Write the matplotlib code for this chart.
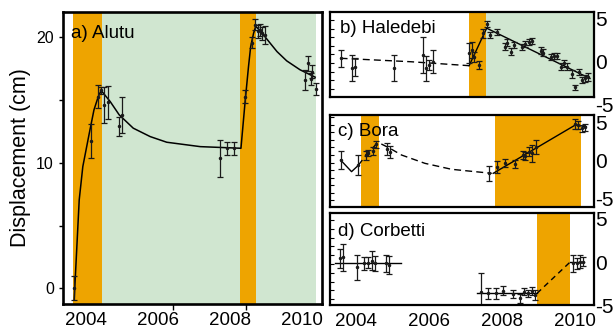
import numpy as np
import matplotlib
matplotlib.use("Agg")
import matplotlib.pyplot as plt
from matplotlib.ticker import MultipleLocator

plt.rcParams['font.family'] = ['Liberation Sans', 'DejaVu Sans']

ORANGE = '#eea400'
GREEN = '#d0e6d0'

# --- a) Alutu ---
a_yr = [2003.67, 2004.13, 2004.32, 2004.42, 2004.51, 2004.60, 2004.92, 2005.01,
        2007.72, 2007.92, 2008.12, 2008.42, 2008.61, 2008.69, 2008.76, 2008.83,
        2008.88, 2008.97, 2010.08, 2010.17, 2010.24, 2010.27, 2010.38]
a_val = [0.0, 11.7, 15.27, 15.75, 14.6, 14.8, 12.9, 13.8,
         10.35, 11.15, 11.15, 15.27, 19.57, 20.98, 20.45, 20.58,
         20.3, 20.18, 16.6, 17.93, 16.65, 17.26, 15.86]
a_err = [0.95, 1.35, 0.9, 0.3, 1.4, 1.3, 0.75, 1.45,
         1.45, 0.5, 0.5, 0.55, 0.45, 0.45, 0.5, 0.5,
         0.5, 0.7, 0.8, 0.6, 0.5, 0.5, 0.45]
a_model_yr = [2003.67, 2003.81, 2003.91, 2004.09, 2004.22, 2004.34, 2004.42, 2004.67,
              2004.92, 2005.31, 2005.78, 2006.24, 2007.17, 2008.30, 2008.42, 2008.51,
              2008.57, 2008.65, 2008.71, 2008.83, 2009.02, 2009.30, 2009.57, 2009.94, 2010.36]
a_model_val = [-0.93, 7.04, 9.69, 12.35, 14.21, 15.27, 15.75, 14.87,
               13.81, 12.75, 12.08, 11.63, 11.28, 11.15, 15.0, 17.66,
               19.25, 20.3, 20.85, 20.53, 19.84, 18.85, 18.11, 17.4, 16.81]
a_orange = [(2003.64, 2004.44), (2008.28, 2008.72)]
a_green = [(2004.44, 2008.28), (2008.72, 2010.38)]

# --- b) Haledebi ---
b_yr = [2003.58, 2003.88, 2003.97, 2005.04, 2005.83, 2005.92, 2006.01, 2006.10,
        2007.10, 2007.17, 2007.23, 2007.37, 2007.49, 2007.58, 2007.67, 2007.87,
        2008.08, 2008.14, 2008.26, 2008.34, 2008.54, 2008.63, 2008.74, 2008.81,
        2009.08, 2009.13, 2009.34, 2009.43, 2009.52, 2009.62, 2009.71, 2009.77,
        2009.91, 2010.00, 2010.11, 2010.20, 2010.27, 2010.36]
b_val = [0.54, -0.62, -0.43, -0.62, 0.93, -0.62, -0.23, 0.15,
         1.13, 1.51, 0.73, -0.23, 3.45, 4.53, 3.26, 3.57,
         1.9, 2.36, 1.31, 2.09, 1.9, 2.21, 2.48, 2.6,
         1.43, 1.2, 0.66, 0.81, 0.81, -0.43, -0.04, -0.43,
         -1.28, -2.83, -1.01, -1.98, -1.78, -1.59]
b_err = [0.97, 1.5, 1.07, 1.5, 2.1, 1.45, 0.6, 1.35,
         1.16, 0.9, 0.6, 0.5, 0.5, 0.4, 0.4, 0.35,
         0.4, 0.4, 0.4, 0.4, 0.35, 0.35, 0.35, 0.35,
         0.4, 0.4, 0.35, 0.35, 0.35, 0.4, 0.4, 0.4,
         0.45, 0.3, 0.35, 0.4, 0.4, 0.45]
b_dash_yr = [2003.58, 2005.5, 2007.10]
b_dash_val = [0.55, 0.15, -0.31]
b_solid_yr = [2007.10, 2007.58, 2010.41]
b_solid_val = [-0.31, 4.05, -1.8]
b_orange = [(2007.10, 2007.56)]
b_green = [(2007.56, 2010.6)]

# --- c) Bora ---
c_yr = [2003.58, 2004.06, 2004.27, 2004.34, 2004.46, 2004.55, 2004.84, 2004.93,
        2007.65, 2007.87, 2008.08, 2008.36, 2008.57, 2008.63, 2008.75, 2008.83,
        2008.92, 2010.01, 2010.09, 2010.18, 2010.27]
c_val = [0.33, -0.33, 0.99, 1.3, 1.56, 2.41, 1.75, 1.43,
         -1.43, -0.56, -0.11, -0.24, 0.99, 0.86, 1.43, 1.21,
         2.09, 5.1, 4.97, 4.53, 4.66]
c_err = [1.2, 1.37, 0.6, 0.4, 0.55, 0.45, 0.77, 0.77,
         1.0, 0.8, 0.55, 0.55, 0.55, 0.55, 0.6, 1.1,
         0.9, 0.65, 0.5, 0.45, 0.45]
c_solid1_yr = [2003.58, 2003.88, 2004.06]
c_solid1_val = [0.33, -1.21, -0.4]
c_dash_yr = [2004.06, 2004.3, 2004.55, 2004.66, 2004.93, 2005.25, 2005.89,
             2006.62, 2007.26, 2007.72]
c_dash_val = [-0.4, 1.1, 2.4, 2.54, 1.88, 0.99, -0.11, -0.9, -1.21, -1.43]
c_solid2_yr = [2007.76, 2010.01, 2010.31]
c_solid2_val = [-1.43, 4.97, 4.74]
c_orange = [(2004.13, 2004.63), (2007.81, 2010.16)]

# --- d) Corbetti ---
d_yr = [2003.56, 2003.65, 2004.04, 2004.23, 2004.32, 2004.43, 2004.52, 2004.81, 2004.91,
        2007.42, 2007.62, 2007.83, 2008.02, 2008.31, 2008.49, 2008.60, 2008.72, 2008.81, 2008.90,
        2009.95, 2010.05, 2010.14, 2010.23]
d_val = [0.65, 0.76, -0.38, 0.08, 0.15, 0.38, 0.08, 0.08, -0.11,
         -3.14, -3.33, -3.33, -3.03, -3.41, -3.9, -3.14, -3.33, -3.07, -3.52,
         0.08, 0.08, 0.26, 0.26]
d_err = [1.08, 1.5, 1.42, 0.76, 0.64, 1.1, 0.85, 0.95, 1.05,
         2.1, 0.65, 0.6, 0.5, 0.5, 0.5, 0.4, 0.4, 0.4, 0.55,
         0.95, 0.6, 0.75, 0.5]
d_solid_segs = [([2003.42, 2005.23], [0.08, 0.08]),
                ([2007.31, 2008.96], [-3.33, -3.33]),
                ([2009.86, 2010.25], [0.2, 0.2])]
d_dash_yr = [2008.96, 2009.86]
d_dash_val = [-3.33, 0.2]
d_orange = [(2008.96, 2009.86)]

years = [2004, 2006, 2008, 2010]


def points(ax, x, y, e):
    ax.errorbar(x, y, yerr=e, fmt='.', color='#1a1a1a', ms=3, elinewidth=0.9,
                capsize=2, capthick=0.9, zorder=4)


def frame(ax, lw):
    for s in ax.spines.values():
        s.set_linewidth(lw)
        s.set_zorder(6)


def side_labels(ax):
    # right-hand value labels, -5 sits just under the box like in the figure
    tr = ax.get_yaxis_transform()
    for v in [5, 0, -5]:
        ax.text(1.005, v, str(v) if v >= 0 else '-5', transform=tr, ha='left',
                va='center', fontsize=15, clip_on=False)


fig = plt.figure(figsize=(6.13, 3.31), dpi=100)

# panel a
ax = fig.add_axes([63 / 613, 27 / 331, 259 / 613, 292 / 331])
for lo, hi in a_orange:
    ax.axvspan(lo, hi, color=ORANGE, lw=0, zorder=1)
for lo, hi in a_green:
    ax.axvspan(lo, hi, color=GREEN, lw=0, zorder=1)
ax.plot(a_model_yr, a_model_val, color='black', lw=1.1, zorder=3)
points(ax, a_yr, a_val, a_err)
ax.set_xlim(2003.36, 2010.55)
ax.set_ylim(-1.25, 22.0)
ax.set_yticks([0, 10, 20])
ax.yaxis.set_minor_locator(MultipleLocator(5))
ax.set_xticks(years)
ax.set_xticks([2006.4, 2008.45], minor=True)
ax.tick_params(axis='x', which='major', length=0, labelsize=13.5, pad=6)
ax.tick_params(axis='x', which='minor', length=4, width=1, direction='out')
ax.tick_params(axis='y', which='both', length=3, width=1, direction='out', labelsize=11.5)
ax.set_ylabel('Displacement (cm)', fontsize=15.5, labelpad=4)
ax.text(0.031, 0.955, 'a) Alutu', transform=ax.transAxes, fontsize=13.5,
        ha='left', va='top', zorder=5)
frame(ax, 1.9)

# panels b, c, d
def small_panel(bottom_px, top_px, ylim):
    axp = fig.add_axes([330 / 613, (331 - bottom_px) / 331, 264 / 613,
                        (bottom_px - top_px) / 331])
    axp.set_xlim(2003.29, 2010.52)
    axp.set_ylim(*ylim)
    axp.yaxis.set_major_locator(MultipleLocator(1))
    axp.tick_params(axis='y', which='both', direction='in', length=3, width=0.8,
                    labelleft=False)
    axp.tick_params(axis='x', length=0, labelbottom=False)
    frame(axp, 1.6)
    side_labels(axp)
    return axp


axb = small_panel(97, 12, (-3.95, 5.93))
for lo, hi in b_orange:
    axb.axvspan(lo, hi, color=ORANGE, lw=0, zorder=1)
for lo, hi in b_green:
    axb.axvspan(lo, hi, color=GREEN, lw=0, zorder=1)
axb.plot(b_dash_yr, b_dash_val, color='black', lw=1, ls=(0, (5, 3)), zorder=3)
axb.plot(b_solid_yr, b_solid_val, color='black', lw=1, zorder=3)
points(axb, b_yr, b_val, b_err)
axb.text(0.038, 0.905, 'b) Haledebi', transform=axb.transAxes, fontsize=13.5,
         ha='left', va='top', zorder=5)

axc = small_panel(207, 115, (-5.89, 6.29))
for lo, hi in c_orange:
    axc.axvspan(lo, hi, color=ORANGE, lw=0, zorder=1)
axc.plot(c_solid1_yr, c_solid1_val, color='black', lw=1, zorder=3)
axc.plot(c_dash_yr, c_dash_val, color='black', lw=1, ls=(0, (5, 3)), zorder=3)
axc.plot(c_solid2_yr, c_solid2_val, color='black', lw=1, zorder=3)
points(axc, c_yr, c_val, c_err)
axc.text(0.029, 0.915, 'c) Bora', transform=axc.transAxes, fontsize=13.5,
         ha='left', va='top', zorder=5)

axd = small_panel(305, 213, (-4.66, 5.8))
for lo, hi in d_orange:
    axd.axvspan(lo, hi, color=ORANGE, lw=0, zorder=1)
for sx, sy in d_solid_segs:
    axd.plot(sx, sy, color='black', lw=1, zorder=3)
axd.plot(d_dash_yr, d_dash_val, color='black', lw=1, ls=(0, (4, 3)), zorder=3)
points(axd, d_yr, d_val, d_err)
axd.set_xticks(years)
axd.tick_params(axis='x', length=0, labelbottom=True, labelsize=13.5, pad=6)
axd.text(0.032, 0.89, 'd) Corbetti', transform=axd.transAxes, fontsize=13.5,
         ha='left', va='top', zorder=5)

fig.savefig('out.png', dpi=100)
